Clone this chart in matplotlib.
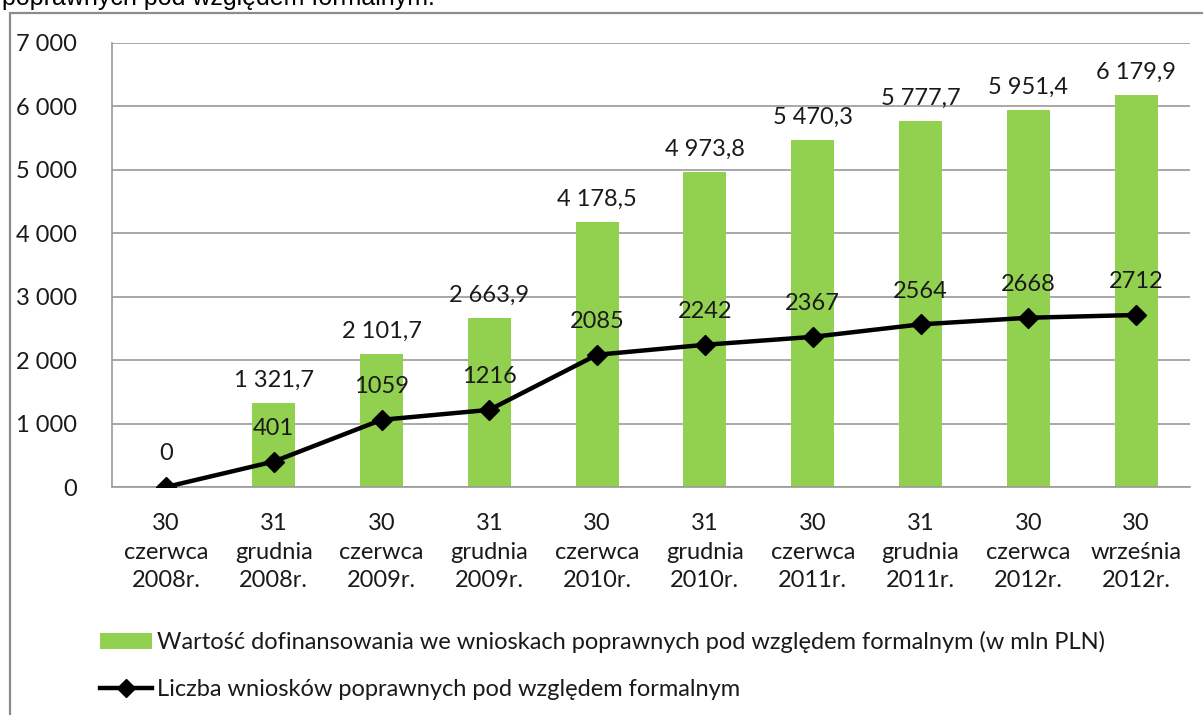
import numpy as np
import matplotlib
matplotlib.use("Agg")
import matplotlib.pyplot as plt
from matplotlib.patches import Rectangle, Patch
from matplotlib.lines import Line2D

# dane z wykresu
kategorie = ["30\nczerwca\n2008r.", "31\ngrudnia\n2008r.", "30\nczerwca\n2009r.",
             "31\ngrudnia\n2009r.", "30\nczerwca\n2010r.", "31\ngrudnia\n2010r.",
             "30\nczerwca\n2011r.", "31\ngrudnia\n2011r.", "30\nczerwca\n2012r.",
             "30\nwrześnia\n2012r."]
wartosc = [0, 1321.7, 2101.7, 2663.9, 4178.5, 4973.8, 5470.3, 5777.7, 5951.4, 6179.9]
liczba = [0, 401, 1059, 1216, 2085, 2242, 2367, 2564, 2668, 2712]
y_ticks = [0, 1000, 2000, 3000, 4000, 5000, 6000, 7000]

nazwa_slupki = "Wartość dofinansowania we wnioskach poprawnych pod względem formalnym (w mln PLN)"
nazwa_linia = "Liczba wniosków poprawnych pod względem formalnym"

plt.rcParams['font.family'] = ['Lato', 'DejaVu Sans']
FS = 17
GREEN = '#92D050'
GRID = '#9a9a9a'
TXT = '#1a1a1a'


def fmt_pl(v, dec):
    s = f"{v:,.{dec}f}"
    return s.replace(",", " ").replace(".", ",")


fig = plt.figure(figsize=(12.03, 7.15), dpi=100)
W, H = 1203, 715

# ramka obszaru wykresu
fig.patches.append(Rectangle((10 / W, -0.1), 1.2, 1 - 13 / H + 0.1, transform=fig.transFigure,
                             fill=False, edgecolor='#8c8c8c', linewidth=1.6))
# ucięty tytuł nad ramką (w oryginale też ucięty)
fig.text(2 / W, 1 - 5 / H, "poprawnych pod względem formalnym.", family='Liberation Sans',
         fontsize=18, va='baseline', ha='left', color='black')

ax = fig.add_axes([112 / W, 1 - 487 / H, (1190 - 112) / W, (487 - 43) / H])
x = np.arange(len(kategorie))

ax.bar(x, wartosc, width=0.4, color=GREEN, zorder=2)
ax.plot(x, liczba, color='black', linewidth=3.2, marker='D', markersize=10, zorder=3)

ax.set_xlim(-0.5, len(kategorie) - 0.5)
ax.set_ylim(0, 7000)
ax.set_yticks(y_ticks)
ax.set_yticklabels([fmt_pl(v, 0) for v in y_ticks])
ax.set_xticks(x)
ax.set_xticklabels(kategorie, linespacing=1.42)
ax.tick_params(axis='both', length=0, labelsize=FS, colors=TXT)
ax.tick_params(axis='y', pad=25)
ax.tick_params(axis='x', pad=19)
ax.yaxis.grid(True, color=GRID, linewidth=1.2, zorder=0)
ax.set_axisbelow(True)
for s in ['top', 'right']:
    ax.spines[s].set_visible(False)
for s in ['left', 'bottom']:
    ax.spines[s].set_color(GRID)
    ax.spines[s].set_linewidth(1.2)

# etykiety słupków
for xi, v in zip(x, wartosc):
    if v == 0:
        continue
    ax.annotate(fmt_pl(v, 1), (xi, v), xytext=(0, 12), textcoords='offset pixels',
                ha='center', va='bottom', fontsize=FS, color=TXT)
# etykiety linii
for xi, v in zip(x, liczba):
    ax.annotate(str(v), (xi, v), xytext=(0, 33), textcoords='offset pixels',
                ha='center', va='center', fontsize=FS, color=TXT)

handles = [Patch(facecolor=GREEN, edgecolor='none'),
           Line2D([], [], color='black', linewidth=3.2, marker='D', markersize=9)]
fig.legend(handles, [nazwa_slupki, nazwa_linia], loc='upper left',
           bbox_to_anchor=(100 / W, 1 - 631 / H), frameon=False, fontsize=FS,
           borderpad=0, borderaxespad=0,
           handlelength=2.2, handleheight=0.7, handletextpad=0.2, labelspacing=1.1,
           labelcolor=TXT)

fig.savefig("out.png", dpi=100)
